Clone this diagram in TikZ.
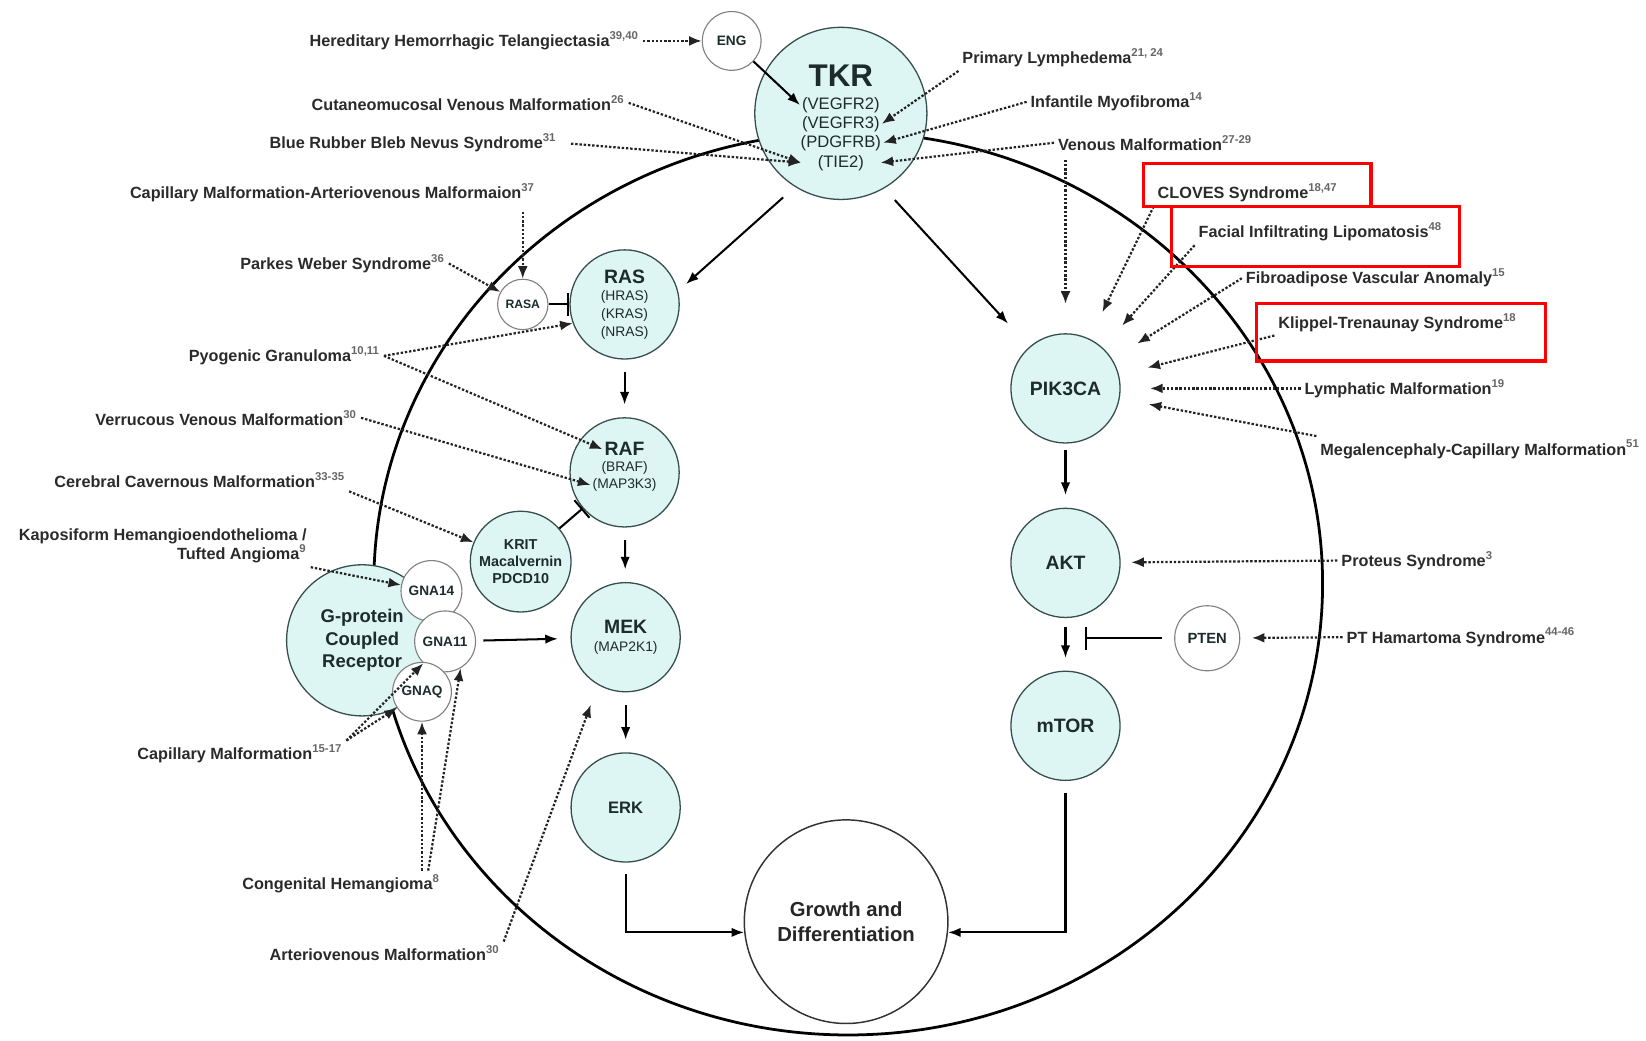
\documentclass[tikz,border=0pt]{standalone}
\usepackage{fontspec}
\setmainfont{Liberation Sans}
\usepackage{tikz}
\usetikzlibrary{positioning}
\usetikzlibrary{arrows.meta}
\usepackage{xcolor}

\definecolor{cellfill}{RGB}{222,246,243}
\definecolor{cellrim}{RGB}{55,78,78}
\definecolor{cellink}{RGB}{28,44,44}
\definecolor{labelink}{RGB}{42,42,42}
\definecolor{dotink}{RGB}{35,35,35}

\newcommand{\refsup}[1]{\textsuperscript{\color{black!60}#1}}
\newcommand{\subname}[1]{{\mdseries\fontsize{7.5}{9}\selectfont #1}}

\begin{document}
\begin{tikzpicture}[
  x=0.02cm, y=-0.02cm,
  pathway/.style={circle, draw=cellrim, fill=cellfill, line width=0.7pt, minimum size=2.08cm, inner sep=0pt, align=center, text=cellink, font=\bfseries\fontsize{10.5}{9.6}\selectfont},
  helper/.style={circle, draw=black!50, fill=white, line width=0.6pt, inner sep=0pt, text=cellink, font=\bfseries\fontsize{7.4}{9}\selectfont},
  cellname/.style={inner sep=1pt, text=cellink, font=\bfseries\fontsize{10.5}{12.5}\selectfont},
  cellsub/.style={inner sep=1pt, text=cellink, font=\fontsize{7.5}{9}\selectfont},
  disease/.style={inner sep=2pt, text=labelink, font=\bfseries\fontsize{8.8}{10.5}\selectfont},
  arrow/.style={-{Latex[length=2.4mm, width=1.8mm]}, line width=1.1pt},
  inhibit/.style={-{Bar[width=4.4mm]}, line width=1.1pt},
  dotarrow/.style={-{Latex[length=2.4mm, width=1.9mm]}, draw=dotink, line width=1.2pt, dash pattern=on 1.3pt off 1pt},
  redbox/.style={draw=red, line width=1.8pt}
]
\useasboundingbox (0,0) rectangle (1568,991);

% cell outline
\draw[line width=1.5pt] (808,556) ellipse [x radius=9.04cm, y radius=8.6cm];

% Top: receptor tyrosine kinases
\node[pathway, minimum size=3.28cm] (tkr) at (801,108) {};
\node[cellname, font=\bfseries\fontsize{17}{20}\selectfont] (tkrname) at (801,72) {TKR};
\node[cellsub, font=\fontsize{9}{11}\selectfont, minimum width=1.5cm] (vegfr2) at (801,100) {(VEGFR2)};
\node[cellsub, font=\fontsize{9}{11}\selectfont, minimum width=1.5cm] (vegfr3) at (801,118) {(VEGFR3)};
\node[cellsub, font=\fontsize{9}{11}\selectfont, minimum width=1.5cm] (pdgfrb) at (801,136) {(PDGFRB)};
\node[cellsub, font=\fontsize{9}{11}\selectfont, minimum width=1.5cm] (tie2) at (801,155) {(TIE2)};
\node[helper, minimum size=1.12cm] (eng) at (697,39) {ENG};

% Left: RAS/MAPK branch
\node[pathway] (ras) at (595,290) {RAS\\\subname{(HRAS)}\\\subname{(KRAS)}\\\subname{(NRAS)}};
\node[helper, minimum size=0.96cm, font=\bfseries\fontsize{6.6}{8}\selectfont] (rasa) at (498,290) {RASA};
\node[pathway] (raf) at (595,450) {};
\node[cellname] (rafname) at (595,428) {RAF};
\node[cellsub] (braf) at (595,446) {(BRAF)};
\node[cellsub] (map3k3) at (595,462) {(MAP3K3)};
\node[pathway, minimum size=1.92cm, font=\bfseries\fontsize{7.8}{9.4}\selectfont] (krit) at (496,535) {KRIT\\Macalvernin\\PDCD10};
\node[pathway] (mek) at (596,607) {MEK\\\subname{(MAP2K1)}};
\node[pathway, below=1.14cm of mek, font=\bfseries\fontsize{9}{11}\selectfont] (erk) {ERK};

% G-protein coupled receptor and its alpha subunits
\node[pathway, minimum size=2.88cm, font=\bfseries\fontsize{10}{12.2}\selectfont] (gpcr) at (345,610) {G-protein\\Coupled\\Receptor};
\node[helper, minimum size=1.16cm] (gna14) at (411,563) {GNA14};
\node[helper, minimum size=1.16cm] (gna11) at (424,611) {GNA11};
\node[helper, minimum size=1.12cm] (gnaq) at (402,659) {GNAQ};

% Right: PI3K/AKT branch
\node[pathway] (pik3ca) at (1015,370) {PIK3CA};
\node[pathway, below=1.22cm of pik3ca] (akt) {AKT};
\node[pathway, below=1.0cm of akt] (mtor) {mTOR};
\node[helper, minimum size=1.24cm, font=\bfseries\fontsize{8}{9}\selectfont] (pten) at (1150,608) {PTEN};
\coordinate (aktmtor) at (1034,608);

% Bottom: output
\node[circle, draw=black!80, fill=white, line width=0.8pt, minimum size=3.88cm, align=center, text=black!85, font=\bfseries\fontsize{11}{13.6}\selectfont] (growth) at (806,878) {Growth and\\Differentiation};

% Signalling arrows
\draw[arrow] (eng) -- (vegfr2.west);
\draw[arrow, shorten <=0.3cm, shorten >=0.2cm] (tkr.238) -- (ras.14);
\draw[arrow, shorten <=0.3cm, shorten >=0.6cm] (tkr.300) -- (pik3ca.131);
\draw[arrow, shorten <=0.24cm, shorten >=0.24cm] (ras) -- (raf);
\draw[arrow, shorten <=0.24cm, shorten >=0.24cm] (raf) -- (mek);
\draw[arrow, shorten <=0.24cm, shorten >=0.24cm] (mek) -- (erk);
\draw[arrow, shorten <=0.14cm, shorten >=0.24cm] (gna11) -- (mek);
\draw[arrow, shorten <=0.22cm] (erk.south) |- (growth.186);
\draw[arrow, shorten <=0.22cm] (mtor.south) |- (growth.354);
\draw[arrow, shorten <=0.12cm, shorten >=0.24cm] (pik3ca) -- (akt);
\draw[arrow, shorten <=0.16cm, shorten >=0.24cm] (akt) -- (mtor);
\draw[inhibit] (rasa) -- (ras);
\draw[inhibit] (krit) -- (raf);
\draw[inhibit, shorten <=0.24cm] (pten) -- (aktmtor);

% Left-hand disorders
\node[disease, anchor=west] (hht) at (291,39) {Hereditary Hemorrhagic Telangiectasia\refsup{39,40}};
\node[disease, anchor=west] (cvm) at (293,98) {Cutaneomucosal Venous Malformation\refsup{26}};
\node[disease, anchor=west] (brbn) at (253,136) {Blue Rubber Bleb Nevus Syndrome\refsup{31}};
\node[disease, anchor=west] (cmavm) at (120,184) {Capillary Malformation-Arteriovenous Malformaion\refsup{37}};
\node[disease, anchor=west] (pws) at (225,251) {Parkes Weber Syndrome\refsup{36}};
\node[disease, anchor=west] (pg) at (176,339) {Pyogenic Granuloma\refsup{10,11}};
\node[disease, anchor=west] (vvm) at (87,398) {Verrucous Venous Malformation\refsup{30}};
\node[disease, anchor=west] (ccm) at (48,457) {Cerebral Cavernous Malformation\refsup{33-35}};
\node[disease, anchor=east, align=right] (kht) at (296,520) {Kaposiform Hemangioendothelioma /\\Tufted Angioma\refsup{9}};
\node[disease, anchor=west] (cm) at (127,718) {Capillary Malformation\refsup{15-17}};
\node[disease, anchor=west] (ch) at (227,842) {Congenital Hemangioma\refsup{8}};
\node[disease, anchor=west] (avm) at (253,908) {Arteriovenous Malformation\refsup{30}};

\draw[dotarrow] (hht) -- (eng);
\draw[dotarrow] (cvm.east) -- (tie2.west);
\draw[dotarrow, shorten <=0.2cm] (brbn.east) -- (tie2.west);
\draw[dotarrow, shorten <=0.1cm] (rasa |- cmavm.south) -- (rasa);
\draw[dotarrow] (pws.east) -- (rasa);
\draw[dotarrow] (pg.east) -- (ras.200);
\draw[dotarrow] (pg.east) -- (rafname.west);
\draw[dotarrow] (vvm.east) -- (map3k3.west);
\draw[dotarrow] (ccm.south east) -- (krit);
\draw[dotarrow] (kht.south east) -- (gna14);
\draw[dotarrow] (cm.north east) -- (gna11);
\draw[dotarrow] (cm.north east) -- (gnaq);
\draw[dotarrow] (gnaq |- ch.north) -- (gnaq);
\draw[dotarrow] ([xshift=-0.3cm]ch.north east) -- (gna11.300);
\draw[dotarrow, shorten >=0.4cm] (avm.north east) -- (mek.240);

% Right-hand disorders
\node[disease, anchor=west] (plym) at (913,55) {Primary Lymphedema\refsup{21, 24}};
\node[disease, anchor=west] (imf) at (978,97) {Infantile Myofibroma\refsup{14}};
\node[disease, anchor=west] (vm) at (1004,136) {Venous Malformation\refsup{27-29}};
\node[disease, anchor=west] (cloves) at (1099,184) {CLOVES Syndrome\refsup{18,47}};
\node[disease, anchor=west] (fil) at (1138,221) {Facial Infiltrating Lipomatosis\refsup{48}};
\node[disease, anchor=west] (fava) at (1183,265) {Fibroadipose Vascular Anomaly\refsup{15}};
\node[disease, anchor=west] (kts) at (1214,307) {Klippel-Trenaunay Syndrome\refsup{18}};
\node[disease, anchor=west] (lm) at (1239,370) {Lymphatic Malformation\refsup{19}};
\node[disease, anchor=west] (mcm) at (1254,428) {Megalencephaly-Capillary Malformation\refsup{51}};
\node[disease, anchor=west] (proteus) at (1274,534) {Proteus Syndrome\refsup{3}};
\node[disease, anchor=west] (phts) at (1279,607) {PT Hamartoma Syndrome\refsup{44-46}};

\draw[dotarrow] (plym.south west) -- (vegfr3.east);
\draw[dotarrow] (imf.west) -- (pdgfrb.east);
\draw[dotarrow] (vm.west) -- (tie2.east);
\draw[dotarrow, shorten <=0.1cm, shorten >=0.56cm] (pik3ca |- vm.south) -- (pik3ca);
\draw[dotarrow, shorten >=0.56cm] (cloves.south west) -- (pik3ca);
\draw[dotarrow, shorten >=0.56cm] (fil.south west) -- (pik3ca);
\draw[dotarrow, shorten >=0.56cm] (fava.west) -- (pik3ca);
\draw[dotarrow, shorten >=0.56cm] (kts.south west) -- (pik3ca);
\draw[dotarrow, shorten >=0.56cm] (lm.west) -- (pik3ca);
\draw[dotarrow, shorten >=0.56cm] (mcm.north west) -- (pik3ca);
\draw[dotarrow, shorten >=0.2cm] (proteus.west) -- (akt);
\draw[dotarrow, shorten >=0.22cm] (phts.west) -- (pten);

% highlighted entries
\draw[redbox] (1089,156) rectangle (1306,197);
\draw[redbox] (1116,197) rectangle (1390,254);
\draw[redbox] (1197,289) rectangle (1472,344);

\end{tikzpicture}
\end{document}
